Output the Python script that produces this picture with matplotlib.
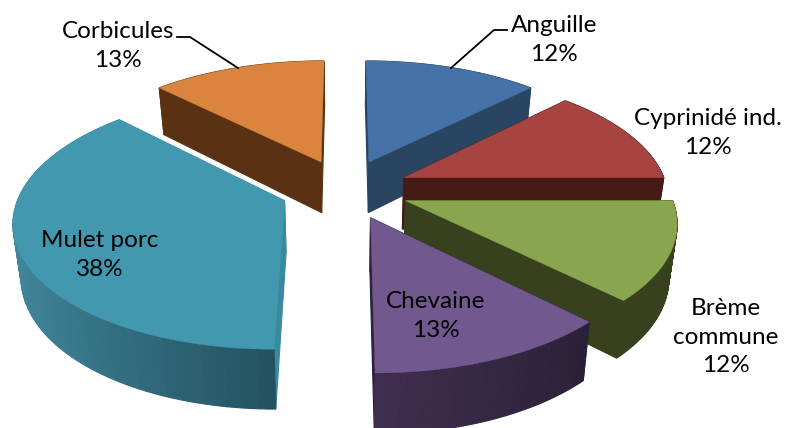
import numpy as np
import matplotlib
matplotlib.use("Agg")
import matplotlib.pyplot as plt
from matplotlib.patches import Polygon
from matplotlib.colors import to_rgb

plt.rcParams['font.family'] = ['Lato', 'DejaVu Sans']

categories = ["Anguille", "Cyprinidé ind.", "Brème\ncommune", "Chevaine", "Mulet porc", "Corbicules"]
values = [12.5, 12.5, 12.5, 12.5, 37.5, 12.5]
percent_labels = ["12%", "12%", "12%", "13%", "38%", "13%"]
top_colors = ["#4572A7", "#A54441", "#89A54E", "#71588F", "#4198AF", "#DB843D"]
wall_colors = ["#294562", "#451B18", "#38411D", "#2C2239", "#3A8A9F", "#5A3213"]
rim_dark = ["#294562", "#451B18", "#38411D", "#2A2138", "#235361", "#5A3213"]
rim_light = ["#294562", "#451B18", "#38411D", "#3F2E50", "#43899E", "#5A3213"]

CX, CY = 345.0, 189.0
AX, AY = 263.5, 123.1
K = 0.146
EXPLODE = 0.245
DEPTH = 52.0
K_DEPTH = 0.12
SHRINK = 0.025


def project(x, y, lower):
    den = 1 + K * y
    px = CX + AX * x / den * ((1 - SHRINK) if lower else 1.0)
    py = CY - AY * y / den + (DEPTH / (1 + K_DEPTH * y) if lower else 0.0)
    return px, py


fig = plt.figure(figsize=(7.86, 4.28), dpi=100)
ax = fig.add_axes([0, 0, 1, 1])
ax.set_xlim(0, 786)
ax.set_ylim(428, 0)
ax.axis("off")

edges = np.concatenate([[0], np.cumsum(values)]) / np.sum(values) * 2 * np.pi
slices = []
for i in range(len(values)):
    a0, a1 = edges[i], edges[i + 1]
    mid = (a0 + a1) / 2
    ox, oy = EXPLODE * np.sin(mid), EXPLODE * np.cos(mid)
    th = np.linspace(a0, a1, 90)
    wx, wy = ox + np.sin(th), oy + np.cos(th)
    top = [project(ox, oy, False)] + [project(a, b, False) for a, b in zip(wx, wy)]

    group = []
    for px, py in ((wx[0], wy[0]), (wx[-1], wy[-1])):
        quad = [project(ox, oy, False), project(px, py, False),
                project(px, py, True), project(ox, oy, True)]
        group.append(((oy + py) / 2, quad, wall_colors[i]))
    c0, c1 = np.array(to_rgb(rim_light[i])), np.array(to_rgb(rim_dark[i]))
    for j in range(len(th) - 1):
        t = (wx[j] - wx.min()) / (wx.max() - wx.min())
        quad = [project(wx[j], wy[j], False), project(wx[j + 1], wy[j + 1], False),
                project(wx[j + 1], wy[j + 1], True), project(wx[j], wy[j], True)]
        group.append(((wy[j] + wy[j + 1]) / 2, quad, tuple(c0 + (c1 - c0) * t)))
    group.sort(key=lambda g: -g[0])
    slices.append((oy, group, top, i))

z = 2
for oy, group, top, i in sorted(slices, key=lambda s: -s[0]):
    for _, quad, col in group:
        ax.add_patch(Polygon(quad, closed=True, fc=col, ec=col, lw=0.8, zorder=z))
    z += 1
    ax.add_patch(Polygon(top, closed=True, fc=top_colors[i], ec=top_colors[i], lw=0.3, zorder=z))
    z += 1

label_pos = [(554, 40), (708, 133), (726, 337), (436, 316), (100, 255), (118, 46)]
for name, pct, (x, y) in zip(categories, percent_labels, label_pos):
    ax.text(x, y, f"{name}\n{pct}", ha="center", va="center", fontsize=17.5, color="black",
            linespacing=1.42, zorder=100)

ax.plot([507, 494, 451], [30, 30, 68], color="black", lw=1.3, zorder=99)
ax.plot([177, 190, 238], [37, 37, 68], color="black", lw=1.3, zorder=99)

fig.savefig("out.png", dpi=100)
